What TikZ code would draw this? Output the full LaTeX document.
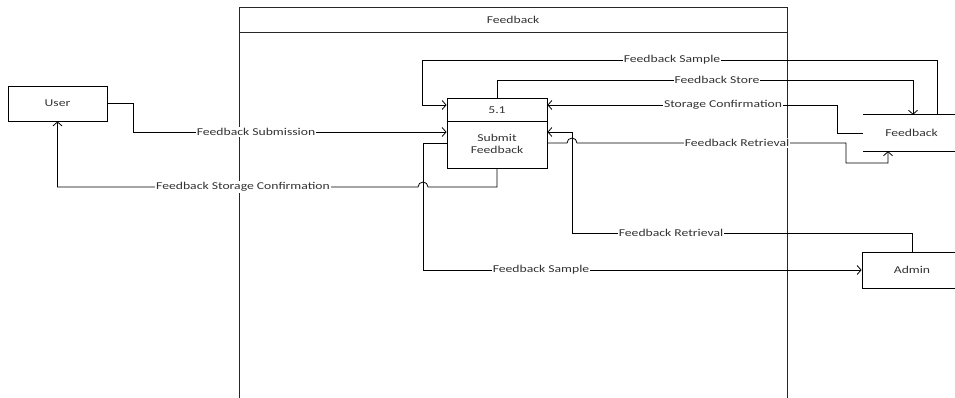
\documentclass[tikz,border=0pt]{standalone}
\usepackage{fontspec}
\setmainfont{Carlito}[FakeStretch=1.3]
\usetikzlibrary{arrows.meta,calc}
\begin{document}
\begin{tikzpicture}[x=1pt,y=-1pt,
  font=\fontsize{10.5}{12}\selectfont,
  every node/.style={text=black!80},
  box/.style={draw,line width=0.8pt,inner sep=0pt},
  conn/.style={draw,line width=0.8pt},
  arr/.style={conn,-{Straight Barb[length=4pt,width=9pt]}},
  lbl/.style={fill=white,inner sep=1pt},
  lane/.style={draw=black!85,line width=1pt}]
\useasboundingbox (0,0) rectangle (955,398);
% swimlane
\draw[lane] (239,400) -- (239,8) -- (787,8) -- (787,400);
\draw[lane] (239,33) -- (787,33);
\node (lanetitle) at (513,20) {Feedback};
% nodes
\node[box,minimum width=99pt,minimum height=35pt] (user) at (57.5,103.5) {User};
\node[box,minimum width=100pt,minimum height=70pt] (proc) at (497,133) {};
\draw[conn] (proc.west |- 0,121) -- (proc.east |- 0,121);
\node (pnum) at (497,110) {5.1};
\node[align=center,inner sep=0pt] (pname) at (497,144) {Submit\\Feedback};
\node[minimum width=97pt,minimum height=36pt,inner sep=0pt] (store) at (911.5,133) {Feedback};
\draw[conn] (store.north west) -- (store.north east);
\draw[conn] (store.south west) -- (store.south east);
\node[box,minimum width=100pt,minimum height=36pt] (admin) at (912,270) {Admin};
% connectors
\draw[arr] (user.east) -- (133,103.5) -- (133,132) -- (proc.west |- 0,132);
\draw[arr] (proc.south) -- (497,187) -- (428,187) arc[start angle=0,end angle=180,radius=5pt] -- (user.south |- 0,187) -- (user.south);
\draw[arr] (store.north -| 937,0) -- (937,60) -- (422,60) -- (422,105) -- (proc.west |- 0,105);
\draw[arr] (proc.north) -- (497,80) -- (913,80) -- (store.north -| 913,0);
\draw[arr] (store.west) -- (837,133) -- (837,105) -- (proc.east |- 0,105);
\draw[arr] (proc.east |- 0,143) -- (567,143) arc[start angle=180,end angle=0,radius=5pt] -- (846,143) -- (846,163) -- (888,163) -- (store.south -| 888,0);
\draw[arr] (admin.north) -- (912,233) -- (572,233) -- (572,132) -- (proc.east |- 0,132);
\draw[arr] (proc.west |- 0,143) -- (423,143) -- (423,270) -- (admin.west);
% labels
\node[lbl] (l1) at (256,132) {Feedback Submission};
\node[lbl] (l2) at (243,187) {Feedback Storage Confirmation};
\node[lbl] (l3) at (672,60) {Feedback Sample};
\node[lbl] (l4) at (717,80) {Feedback Store};
\node[lbl] (l5) at (723,105) {Storage Confirmation};
\node[lbl] (l6) at (737,143) {Feedback Retrieval};
\node[lbl] (l7) at (671,233) {Feedback Retrieval};
\node[lbl] (l8) at (541,270) {Feedback Sample};
\end{tikzpicture}
\end{document}
